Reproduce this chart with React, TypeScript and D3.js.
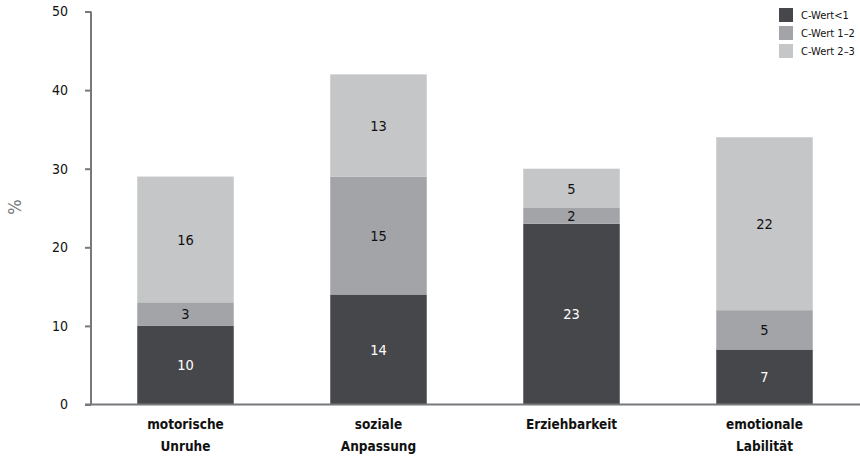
import React, { useEffect, useRef } from 'react';
import * as d3 from 'd3';

const categories = [['motorische', 'Unruhe'], ['soziale', 'Anpassung'], ['Erziehbarkeit'], ['emotionale', 'Labilität']];
const seriesNames = ['C-Wert<1', 'C-Wert 1–2', 'C-Wert 2–3'];
const cBelow1 = [10, 14, 23, 7];
const c1to2 = [3, 15, 2, 5];
const c2to3 = [16, 13, 5, 22];
const yTicks = [0, 10, 20, 30, 40, 50];

const colors = ['#46474b', '#a2a4a8', '#c5c6c8'];
const textColors = ['#ffffff', '#111111', '#111111'];
const FONT = '"DejaVu Sans Condensed", "DejaVu Sans", sans-serif';

const App = () => {
    const ref = useRef(null);

    useEffect(() => {
        document.body.style.margin = '0';
        const svg = d3.select(ref.current);
        svg.selectAll('*').remove();

        const keys = categories.map((c, i) => String(i));
        const rows = keys.map((k, i) => ({ key: k, s0: cBelow1[i], s1: c1to2[i], s2: c2to3[i] }));
        const stack = d3.stack().keys(['s0', 's1', 's2'])(rows);

        const x = d3.scaleBand()
            .domain(keys)
            .range([89, 861])
            .paddingInner(0.5)
            .paddingOuter(0.25);

        const y = d3.scaleLinear()
            .domain([0, 50])
            .range([404.5, 11.5]);

        // bars
        stack.forEach((layer, si) => {
            const g = svg.append('g');
            g.selectAll('rect')
                .data(layer)
                .enter()
                .append('rect')
                .attr('x', d => x(d.data.key))
                .attr('y', d => y(d[1]))
                .attr('width', x.bandwidth())
                .attr('height', d => y(d[0]) - y(d[1]))
                .attr('fill', colors[si]);

            g.selectAll('text')
                .data(layer)
                .enter()
                .append('text')
                .attr('x', d => x(d.data.key) + x.bandwidth() / 2)
                .attr('y', d => y((d[0] + d[1]) / 2))
                .attr('dy', '0.36em')
                .attr('text-anchor', 'middle')
                .attr('font-family', FONT)
                .attr('font-size', 14.5)
                .attr('fill', textColors[si])
                .text(d => d[1] - d[0]);
        });

        // y axis
        const yAxis = svg.append('g')
            .attr('transform', 'translate(91,0)')
            .call(d3.axisLeft(y).tickValues(yTicks).tickSize(6).tickPadding(17));
        yAxis.select('.domain').attr('stroke', '#77787c').attr('stroke-width', 2).attr('d', `M0,${y(50)}V${y(0)}`);
        yAxis.selectAll('.tick line').attr('stroke', '#77787c').attr('stroke-width', 2);
        yAxis.selectAll('.tick text')
            .attr('font-family', FONT)
            .attr('font-size', 14)
            .attr('fill', '#111');

        // x axis line
        svg.append('line')
            .attr('x1', 85).attr('x2', 860)
            .attr('y1', y(0)).attr('y2', y(0))
            .attr('stroke', '#77787c')
            .attr('stroke-width', 2);

        // category labels
        const labels = svg.append('g');
        categories.forEach((lines, i) => {
            const t = labels.append('text')
                .attr('x', x(keys[i]) + x.bandwidth() / 2)
                .attr('y', 429)
                .attr('text-anchor', 'middle')
                .attr('font-family', FONT)
                .attr('font-weight', 'bold')
                .attr('font-size', 13.5)
                .attr('fill', '#111');
            lines.forEach((l, j) => {
                t.append('tspan')
                    .attr('x', x(keys[i]) + x.bandwidth() / 2)
                    .attr('dy', j === 0 ? 0 : 22)
                    .text(l);
            });
        });

        // y title
        svg.append('text')
            .attr('transform', 'translate(21,207) rotate(-90)')
            .attr('text-anchor', 'middle')
            .attr('font-family', FONT)
            .attr('font-size', 18)
            .attr('fill', '#77787c')
            .text('%');

        // legend
        const legend = svg.append('g');
        seriesNames.forEach((name, i) => {
            legend.append('rect')
                .attr('x', 779)
                .attr('y', 8 + i * 18)
                .attr('width', 14)
                .attr('height', 14)
                .attr('fill', colors[i]);
            legend.append('text')
                .attr('x', 801)
                .attr('y', 15 + i * 18)
                .attr('dy', '0.36em')
                .attr('font-family', FONT)
                .attr('font-size', 11)
                .attr('fill', '#111')
                .text(name);
        });
    }, []);

    return (
        <svg ref={ref} width={860} height={463} style={{ display: 'block' }}></svg>
    );
};

export default App;
